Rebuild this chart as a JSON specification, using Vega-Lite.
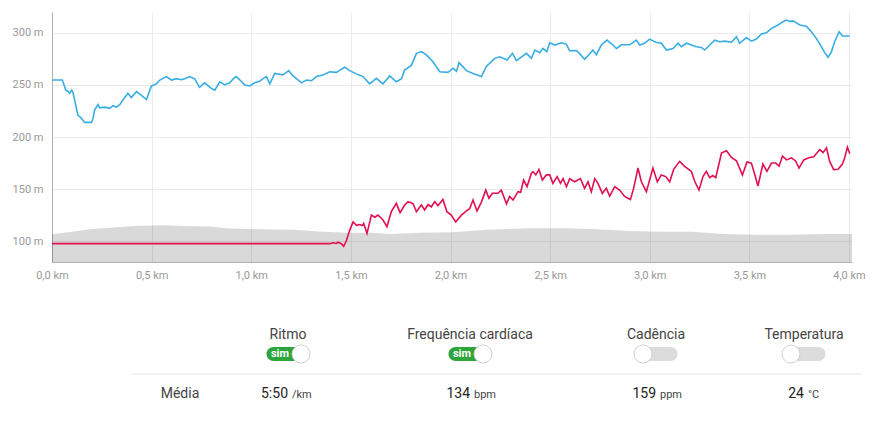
{
  "$schema": "https://vega.github.io/schema/vega-lite/v6.json",
  "width": 800,
  "height": 250,
  "autosize": {"type": "none"},
  "padding": {"left": 52, "top": 12, "right": 22, "bottom": 167},
  "background": "white",
  "config": {"view": {"stroke": null}, "font": "Roboto"},
  "datasets": {
    "elev": [
      {"d": 0, "v": 106.6}, {"d": 0.09, "v": 108.8}, {"d": 0.19, "v": 111.4}, {"d": 0.29, "v": 113}, {"d": 0.41, "v": 114.6},
      {"d": 0.56, "v": 115.2}, {"d": 0.66, "v": 114.5}, {"d": 0.8, "v": 114}, {"d": 0.87, "v": 112.5}, {"d": 1.04, "v": 111.4},
      {"d": 1.21, "v": 111}, {"d": 1.34, "v": 109.4}, {"d": 1.48, "v": 108}, {"d": 1.6, "v": 108}, {"d": 1.7, "v": 106.9},
      {"d": 1.85, "v": 108}, {"d": 2.01, "v": 108.5}, {"d": 2.18, "v": 110.9}, {"d": 2.41, "v": 112.5}, {"d": 2.57, "v": 112.5},
      {"d": 2.73, "v": 111.4}, {"d": 2.9, "v": 109.8}, {"d": 3.07, "v": 109.1}, {"d": 3.21, "v": 109}, {"d": 3.37, "v": 106.9},
      {"d": 3.54, "v": 106.2}, {"d": 3.7, "v": 106.2}, {"d": 3.87, "v": 106.9}, {"d": 4.015, "v": 106.9}
    ],
    "blue": [
      {"d": 0.002, "v": 254.7}, {"d": 0.052, "v": 254.7}, {"d": 0.069, "v": 245}, {"d": 0.079, "v": 244}, {"d": 0.089, "v": 242},
      {"d": 0.099, "v": 245}, {"d": 0.105, "v": 243}, {"d": 0.119, "v": 230.7}, {"d": 0.13, "v": 221}, {"d": 0.148, "v": 218},
      {"d": 0.164, "v": 214}, {"d": 0.198, "v": 214}, {"d": 0.206, "v": 218}, {"d": 0.214, "v": 226}, {"d": 0.231, "v": 231},
      {"d": 0.239, "v": 228}, {"d": 0.265, "v": 228.7}, {"d": 0.29, "v": 227.5}, {"d": 0.306, "v": 230}, {"d": 0.323, "v": 228.7},
      {"d": 0.34, "v": 231}, {"d": 0.356, "v": 235.5}, {"d": 0.381, "v": 242}, {"d": 0.398, "v": 238}, {"d": 0.424, "v": 243.5},
      {"d": 0.449, "v": 240}, {"d": 0.474, "v": 236}, {"d": 0.499, "v": 249}, {"d": 0.524, "v": 251}, {"d": 0.541, "v": 254.7},
      {"d": 0.574, "v": 258}, {"d": 0.599, "v": 254.7}, {"d": 0.624, "v": 256}, {"d": 0.649, "v": 255}, {"d": 0.666, "v": 256},
      {"d": 0.691, "v": 258}, {"d": 0.716, "v": 255.8}, {"d": 0.741, "v": 247.7}, {"d": 0.766, "v": 252}, {"d": 0.8, "v": 246.7},
      {"d": 0.817, "v": 245}, {"d": 0.842, "v": 253}, {"d": 0.867, "v": 250}, {"d": 0.892, "v": 252}, {"d": 0.908, "v": 255.5},
      {"d": 0.925, "v": 258}, {"d": 0.947, "v": 254}, {"d": 0.967, "v": 250}, {"d": 0.992, "v": 249}, {"d": 1.017, "v": 252},
      {"d": 1.042, "v": 253.5}, {"d": 1.059, "v": 256}, {"d": 1.076, "v": 258}, {"d": 1.093, "v": 251}, {"d": 1.118, "v": 261},
      {"d": 1.159, "v": 259.6}, {"d": 1.188, "v": 263.7}, {"d": 1.21, "v": 258.6}, {"d": 1.252, "v": 252}, {"d": 1.277, "v": 254.7},
      {"d": 1.302, "v": 254}, {"d": 1.327, "v": 258}, {"d": 1.36, "v": 259.5}, {"d": 1.394, "v": 262.6}, {"d": 1.427, "v": 262},
      {"d": 1.444, "v": 264}, {"d": 1.469, "v": 267}, {"d": 1.494, "v": 263.7}, {"d": 1.528, "v": 260.6}, {"d": 1.561, "v": 258},
      {"d": 1.594, "v": 251}, {"d": 1.628, "v": 256.3}, {"d": 1.661, "v": 251}, {"d": 1.695, "v": 258.6}, {"d": 1.728, "v": 253},
      {"d": 1.754, "v": 256}, {"d": 1.77, "v": 264.3}, {"d": 1.804, "v": 269}, {"d": 1.829, "v": 280.3}, {"d": 1.854, "v": 282},
      {"d": 1.879, "v": 278.8}, {"d": 1.912, "v": 272.3}, {"d": 1.946, "v": 262.6}, {"d": 1.987, "v": 262}, {"d": 2.013, "v": 266},
      {"d": 2.03, "v": 263}, {"d": 2.043, "v": 271.4}, {"d": 2.08, "v": 263.7}, {"d": 2.113, "v": 261}, {"d": 2.155, "v": 258},
      {"d": 2.18, "v": 267.8}, {"d": 2.222, "v": 275.5}, {"d": 2.247, "v": 277}, {"d": 2.284, "v": 274}, {"d": 2.311, "v": 280.3},
      {"d": 2.331, "v": 273.3}, {"d": 2.381, "v": 280.3}, {"d": 2.406, "v": 275.5}, {"d": 2.423, "v": 283.5}, {"d": 2.448, "v": 281},
      {"d": 2.464, "v": 285}, {"d": 2.483, "v": 282}, {"d": 2.498, "v": 290.5}, {"d": 2.523, "v": 288.3}, {"d": 2.557, "v": 290.5},
      {"d": 2.582, "v": 289}, {"d": 2.598, "v": 282.8}, {"d": 2.632, "v": 283}, {"d": 2.648, "v": 280}, {"d": 2.673, "v": 274.6},
      {"d": 2.699, "v": 280}, {"d": 2.715, "v": 283.5}, {"d": 2.732, "v": 279}, {"d": 2.757, "v": 288.3}, {"d": 2.785, "v": 293},
      {"d": 2.808, "v": 289.5}, {"d": 2.833, "v": 285}, {"d": 2.858, "v": 288.5}, {"d": 2.899, "v": 288.5}, {"d": 2.933, "v": 293},
      {"d": 2.949, "v": 288.3}, {"d": 2.974, "v": 290}, {"d": 2.999, "v": 294}, {"d": 3.03, "v": 291}, {"d": 3.058, "v": 290},
      {"d": 3.084, "v": 283.5}, {"d": 3.117, "v": 285}, {"d": 3.142, "v": 290}, {"d": 3.159, "v": 286.7}, {"d": 3.184, "v": 290},
      {"d": 3.209, "v": 288.3}, {"d": 3.234, "v": 286.7}, {"d": 3.259, "v": 286}, {"d": 3.276, "v": 283.5}, {"d": 3.301, "v": 288.3},
      {"d": 3.326, "v": 293}, {"d": 3.351, "v": 291.5}, {"d": 3.376, "v": 292}, {"d": 3.41, "v": 291}, {"d": 3.435, "v": 296.3},
      {"d": 3.451, "v": 290}, {"d": 3.485, "v": 295.4}, {"d": 3.51, "v": 292}, {"d": 3.535, "v": 294}, {"d": 3.56, "v": 298.9},
      {"d": 3.585, "v": 300}, {"d": 3.611, "v": 304.3}, {"d": 3.644, "v": 307.5}, {"d": 3.669, "v": 310.7}, {"d": 3.686, "v": 312.3},
      {"d": 3.702, "v": 311}, {"d": 3.719, "v": 311.5}, {"d": 3.753, "v": 307.5}, {"d": 3.786, "v": 306.4}, {"d": 3.811, "v": 301},
      {"d": 3.836, "v": 294.7}, {"d": 3.861, "v": 286.7}, {"d": 3.878, "v": 281}, {"d": 3.895, "v": 276.5}, {"d": 3.912, "v": 282},
      {"d": 3.928, "v": 291.5}, {"d": 3.95, "v": 301}, {"d": 3.967, "v": 297}, {"d": 4.004, "v": 297}
    ],
    "red": [
      {"d": 0, "v": 97.6}, {"d": 1.394, "v": 97.6}, {"d": 1.41, "v": 98.5}, {"d": 1.427, "v": 97.8}, {"d": 1.435, "v": 99},
      {"d": 1.452, "v": 97.6}, {"d": 1.464, "v": 95}, {"d": 1.478, "v": 100.8}, {"d": 1.494, "v": 110.4}, {"d": 1.511, "v": 118.4},
      {"d": 1.528, "v": 115.2}, {"d": 1.544, "v": 116}, {"d": 1.558, "v": 115}, {"d": 1.564, "v": 117}, {"d": 1.581, "v": 107.5},
      {"d": 1.603, "v": 125}, {"d": 1.62, "v": 123}, {"d": 1.636, "v": 125}, {"d": 1.653, "v": 122}, {"d": 1.661, "v": 120.3},
      {"d": 1.681, "v": 113.9}, {"d": 1.703, "v": 128.3}, {"d": 1.728, "v": 136.3}, {"d": 1.747, "v": 127.4}, {"d": 1.77, "v": 134.7},
      {"d": 1.787, "v": 138}, {"d": 1.812, "v": 136}, {"d": 1.829, "v": 128.3}, {"d": 1.854, "v": 134.7}, {"d": 1.87, "v": 130},
      {"d": 1.887, "v": 135}, {"d": 1.904, "v": 133}, {"d": 1.921, "v": 138}, {"d": 1.937, "v": 134}, {"d": 1.962, "v": 140},
      {"d": 1.982, "v": 128.3}, {"d": 2.004, "v": 125}, {"d": 2.026, "v": 118.4}, {"d": 2.055, "v": 125}, {"d": 2.08, "v": 129},
      {"d": 2.096, "v": 131.2}, {"d": 2.113, "v": 139.5}, {"d": 2.133, "v": 129}, {"d": 2.155, "v": 137.5}, {"d": 2.177, "v": 149},
      {"d": 2.193, "v": 141.2}, {"d": 2.21, "v": 146}, {"d": 2.238, "v": 146}, {"d": 2.255, "v": 149}, {"d": 2.281, "v": 135.8},
      {"d": 2.297, "v": 142.9}, {"d": 2.314, "v": 139.5}, {"d": 2.339, "v": 147.5}, {"d": 2.352, "v": 147}, {"d": 2.367, "v": 158.7},
      {"d": 2.384, "v": 152.4}, {"d": 2.406, "v": 165.2}, {"d": 2.414, "v": 166.8}, {"d": 2.428, "v": 163.6}, {"d": 2.444, "v": 168.9},
      {"d": 2.461, "v": 158.7}, {"d": 2.481, "v": 163.6}, {"d": 2.498, "v": 163.6}, {"d": 2.514, "v": 155.5}, {"d": 2.535, "v": 162},
      {"d": 2.552, "v": 155.5}, {"d": 2.565, "v": 160}, {"d": 2.582, "v": 152.3}, {"d": 2.598, "v": 160}, {"d": 2.623, "v": 157},
      {"d": 2.652, "v": 160}, {"d": 2.673, "v": 150.7}, {"d": 2.69, "v": 157}, {"d": 2.707, "v": 147.5}, {"d": 2.724, "v": 160},
      {"d": 2.74, "v": 155.5}, {"d": 2.762, "v": 145.9}, {"d": 2.782, "v": 150.7}, {"d": 2.799, "v": 143.3}, {"d": 2.824, "v": 152.3},
      {"d": 2.849, "v": 149}, {"d": 2.874, "v": 143}, {"d": 2.903, "v": 140}, {"d": 2.919, "v": 150.7}, {"d": 2.941, "v": 170.2},
      {"d": 2.958, "v": 157}, {"d": 2.983, "v": 147.5}, {"d": 3.016, "v": 170.2}, {"d": 3.038, "v": 157}, {"d": 3.058, "v": 163.6},
      {"d": 3.08, "v": 162}, {"d": 3.1, "v": 157}, {"d": 3.12, "v": 168.9}, {"d": 3.15, "v": 176.6}, {"d": 3.175, "v": 171.8},
      {"d": 3.209, "v": 167}, {"d": 3.226, "v": 157.3}, {"d": 3.247, "v": 149}, {"d": 3.267, "v": 162}, {"d": 3.284, "v": 167},
      {"d": 3.301, "v": 161}, {"d": 3.316, "v": 163}, {"d": 3.331, "v": 161}, {"d": 3.36, "v": 184.6}, {"d": 3.385, "v": 186.8},
      {"d": 3.41, "v": 180.4}, {"d": 3.435, "v": 177.2}, {"d": 3.465, "v": 163.6}, {"d": 3.488, "v": 176}, {"d": 3.51, "v": 174.9},
      {"d": 3.527, "v": 164}, {"d": 3.543, "v": 153}, {"d": 3.568, "v": 174}, {"d": 3.588, "v": 167}, {"d": 3.611, "v": 175},
      {"d": 3.632, "v": 175}, {"d": 3.649, "v": 172}, {"d": 3.666, "v": 181.7}, {"d": 3.687, "v": 178}, {"d": 3.711, "v": 180},
      {"d": 3.732, "v": 177}, {"d": 3.749, "v": 170.2}, {"d": 3.773, "v": 178}, {"d": 3.798, "v": 180}, {"d": 3.823, "v": 181},
      {"d": 3.853, "v": 187.9}, {"d": 3.87, "v": 185}, {"d": 3.887, "v": 189.6}, {"d": 3.903, "v": 176.6}, {"d": 3.923, "v": 168.6},
      {"d": 3.945, "v": 169}, {"d": 3.967, "v": 174}, {"d": 3.978, "v": 179.8}, {"d": 3.992, "v": 190.3}, {"d": 4.004, "v": 184}
    ],
    "heads": [
      {"c": 1, "r": 0, "label": "Ritmo"},
      {"c": 2, "r": 0, "label": "Frequência cardíaca"},
      {"c": 3, "r": 0, "label": "Cadência"},
      {"c": 4, "r": 0, "label": "Temperatura"},
      {"c": 0, "r": 3, "label": "Média"}
    ],
    "vals": [
      {"c": 1, "r": 3, "num": "5:50", "unit": "/km"},
      {"c": 2, "r": 3, "num": "134", "unit": "bpm"},
      {"c": 3, "r": 3, "num": "159", "unit": "ppm"},
      {"c": 4, "r": 3, "num": "24", "unit": "°C"}
    ],
    "toggles": [
      {"c": 1, "r": 1, "on": true},
      {"c": 2, "r": 1, "on": true},
      {"c": 3, "r": 1, "on": false},
      {"c": 4, "r": 1, "on": false}
    ],
    "sep": [{"c": -1, "c2": 5, "r": 2}]
  },
  "layer": [
    {
      "layer": [
        {
          "data": {"name": "elev"},
          "mark": {"type": "area", "color": "#000000", "opacity": 0.15},
          "encoding": {
            "x": {"field": "d", "type": "quantitative",
              "scale": {"domain": [0, 4.015], "nice": false, "zero": false},
              "axis": {"values": [0, 0.5, 1, 1.5, 2, 2.5, 3, 3.5, 4], "labelExpr": "replace(format(datum.value, '.1f'), '.', ',') + ' km'",
                "title": null, "grid": true, "gridColor": "#ebebeb", "ticks": false, "tickSize": 0, "domainColor": "#b0b0b0",
                "labelColor": "#999999", "labelFontSize": 11, "labelPadding": 7, "labelFlush": false}},
            "y": {"field": "v", "type": "quantitative",
              "scale": {"domain": [80, 320], "nice": false, "zero": false},
              "axis": {"values": [100, 150, 200, 250, 300], "labelExpr": "datum.value + ' m'",
                "title": null, "grid": true, "gridColor": "#ebebeb", "ticks": false, "tickSize": 0, "domainColor": "#b0b0b0",
                "labelColor": "#999999", "labelFontSize": 11, "labelPadding": 9}},
            "y2": {"datum": 80}
          }
        },
        {
          "data": {"name": "blue"},
          "mark": {"type": "line", "color": "#38ade3", "strokeWidth": 1.6},
          "encoding": {
            "x": {"field": "d", "type": "quantitative"},
            "y": {"field": "v", "type": "quantitative"}
          }
        },
        {
          "data": {"name": "red"},
          "mark": {"type": "line", "color": "#e2104f", "strokeWidth": 1.6},
          "encoding": {
            "x": {"field": "d", "type": "quantitative"},
            "y": {"field": "v", "type": "quantitative"}
          }
        }
      ]
    },
    {
      "encoding": {
        "x": {"field": "c", "type": "quantitative", "axis": null,
          "scale": {"domain": [-1, 0, 1, 2, 3, 4, 5], "range": [80, 128, 236, 418, 604, 752, 810], "nice": false, "zero": false}},
        "y": {"field": "r", "type": "quantitative", "axis": null,
          "scale": {"domain": [0, 1, 2, 3], "range": [323, 342, 362, 382], "nice": false, "zero": false}}
      },
      "layer": [
        {
          "data": {"name": "sep"},
          "mark": {"type": "rule", "color": "#e6e6ee", "strokeWidth": 1},
          "encoding": {"x2": {"field": "c2"}}
        },
        {
          "data": {"name": "heads"},
          "mark": {"type": "text", "fontSize": 14, "color": "#444444", "align": "center", "baseline": "middle"},
          "encoding": {"text": {"field": "label"}}
        },
        {
          "data": {"name": "vals"},
          "mark": {"type": "text", "fontSize": 14, "color": "#222222", "align": "right", "baseline": "middle"},
          "encoding": {"text": {"field": "num"}}
        },
        {
          "data": {"name": "vals"},
          "mark": {"type": "text", "fontSize": 11, "color": "#444444", "align": "left", "baseline": "middle", "dx": 4, "dy": 1},
          "encoding": {"text": {"field": "unit"}}
        },
        {
          "data": {"name": "toggles"},
          "transform": [{"filter": "datum.on"}],
          "mark": {"type": "point", "filled": true, "opacity": 1, "color": "#2ea53a", "size": 1849,
            "shape": "M -0.674 -0.326 L 0.674 -0.326 A 0.326 0.326 0 0 1 0.674 0.326 L -0.674 0.326 A 0.326 0.326 0 0 1 -0.674 -0.326 Z"},
          "encoding": {}
        },
        {
          "data": {"name": "toggles"},
          "transform": [{"filter": "!datum.on"}],
          "mark": {"type": "point", "filled": true, "opacity": 1, "color": "#dcdcdc", "size": 1849,
            "shape": "M -0.674 -0.326 L 0.674 -0.326 A 0.326 0.326 0 0 1 0.674 0.326 L -0.674 0.326 A 0.326 0.326 0 0 1 -0.674 -0.326 Z"},
          "encoding": {}
        },
        {
          "data": {"name": "toggles"},
          "transform": [{"filter": "datum.on"}],
          "mark": {"type": "text", "text": "sim", "fontSize": 11, "fontWeight": "bold", "color": "#ffffff", "align": "center", "baseline": "middle", "dx": -8},
          "encoding": {}
        },
        {
          "data": {"name": "toggles"},
          "transform": [{"filter": "datum.on"}],
          "mark": {"type": "point", "shape": "circle", "filled": true, "opacity": 1, "fill": "#ffffff", "stroke": "#cfcfcf", "strokeWidth": 1, "size": 324, "xOffset": 13},
          "encoding": {}
        },
        {
          "data": {"name": "toggles"},
          "transform": [{"filter": "!datum.on"}],
          "mark": {"type": "point", "shape": "circle", "filled": true, "opacity": 1, "fill": "#ffffff", "stroke": "#cfcfcf", "strokeWidth": 1, "size": 324, "xOffset": -13},
          "encoding": {}
        }
      ]
    }
  ],
  "resolve": {"scale": {"x": "independent", "y": "independent"}}
}
